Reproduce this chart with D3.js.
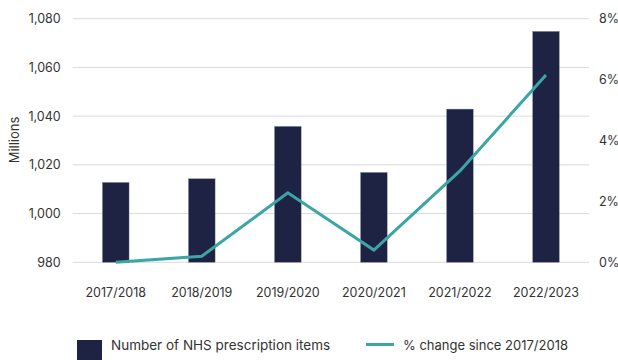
<!DOCTYPE html>
<html lang="en">
<head>
<meta charset="utf-8">
<script src="https://d3js.org/d3.v7.min.js"></script>
<style>
  body { margin: 0; background: #fff; }
  text { font-family: Inter, "Open Sans", sans-serif; fill: #333; }
</style>
</head>
<body>
<script>
// Data
var years = ["2017/2018", "2018/2019", "2019/2020", "2020/2021", "2021/2022", "2022/2023"];
var items = [1012.8, 1014.3, 1035.8, 1016.9, 1042.9, 1074.8];   // millions
var pctChange = [0, 0.2, 2.28, 0.4, 3.0, 6.15];               // % since 2017/2018
var leftTicks = [980, 1000, 1020, 1040, 1060, 1080];
var rightTicks = [0, 2, 4, 6, 8];

var w = 618, h = 360;
var plotL = 72.7, plotR = 589, plotT = 18.7, plotB = 262.3;

var svg = d3.select("body").append("svg")
  .attr("width", w).attr("height", h);

var x = d3.scaleBand().domain(years).range([plotL, plotR]).paddingInner(0.69).paddingOuter(0.345);
var y = d3.scaleLinear().domain([980, 1080]).range([plotB, plotT]);
var y2 = d3.scaleLinear().domain([0, 8]).range([plotB, plotT]);

// gridlines
svg.append("g").selectAll("line")
  .data(leftTicks).enter().append("line")
  .attr("x1", plotL).attr("x2", plotR)
  .attr("y1", function(d) { return y(d); })
  .attr("y2", function(d) { return y(d); })
  .attr("stroke", "#d9d9df").attr("stroke-width", 1);

// left axis
var yAxis = svg.append("g")
  .attr("transform", "translate(" + (plotL - 9) + ",0)")
  .call(d3.axisLeft(y).tickValues(leftTicks).tickSize(0).tickFormat(d3.format(",")));
yAxis.select(".domain").remove();
yAxis.selectAll("text").style("font-size", "12.5px").attr("fill", "#333");

// right axis
var yAxis2 = svg.append("g")
  .attr("transform", "translate(" + (plotR + 7) + ",0)")
  .call(d3.axisRight(y2).tickValues(rightTicks).tickSize(0).tickFormat(function(d) { return d + "%"; }));
yAxis2.select(".domain").remove();
yAxis2.selectAll("text").style("font-size", "12.5px").attr("fill", "#333");

// x axis labels
var xAxis = svg.append("g")
  .attr("transform", "translate(0," + (plotB + 23) + ")")
  .call(d3.axisBottom(x).tickSize(0));
xAxis.select(".domain").remove();
xAxis.selectAll("text").style("font-size", "12.5px").attr("fill", "#333");

// y title
svg.append("text")
  .attr("transform", "translate(19,140) rotate(-90)")
  .attr("text-anchor", "middle")
  .style("font-size", "13px")
  .text("Millions");

// bars
svg.append("g").selectAll("rect")
  .data(items).enter().append("rect")
  .attr("x", function(d, i) { return x(years[i]); })
  .attr("width", x.bandwidth())
  .attr("y", function(d) { return y(d); })
  .attr("height", function(d) { return plotB - y(d); })
  .attr("fill", "#1e2344")
  .attr("stroke", "#8a8ea6").attr("stroke-width", 0.4);

// line
var line = d3.line()
  .x(function(d, i) { return x(years[i]) + x.bandwidth() / 2; })
  .y(function(d) { return y2(d); });
svg.append("path")
  .datum(pctChange)
  .attr("d", line)
  .attr("fill", "none")
  .attr("stroke", "#3aa6a5")
  .attr("stroke-width", 3);

// legend
var lg = svg.append("g");
lg.append("rect").attr("x", 77).attr("y", 340).attr("width", 25).attr("height", 25).attr("fill", "#1e2344");
lg.append("text").attr("x", 111).attr("y", 349.5).style("font-size", "13.5px").text("Number of NHS prescription items");
lg.append("line").attr("x1", 366).attr("x2", 394).attr("y1", 344.5).attr("y2", 344.5)
  .attr("stroke", "#3aa6a5").attr("stroke-width", 3);
lg.append("text").attr("x", 403).attr("y", 349.5).style("font-size", "13px").text("% change since 2017/2018");
</script>
</body>
</html>
